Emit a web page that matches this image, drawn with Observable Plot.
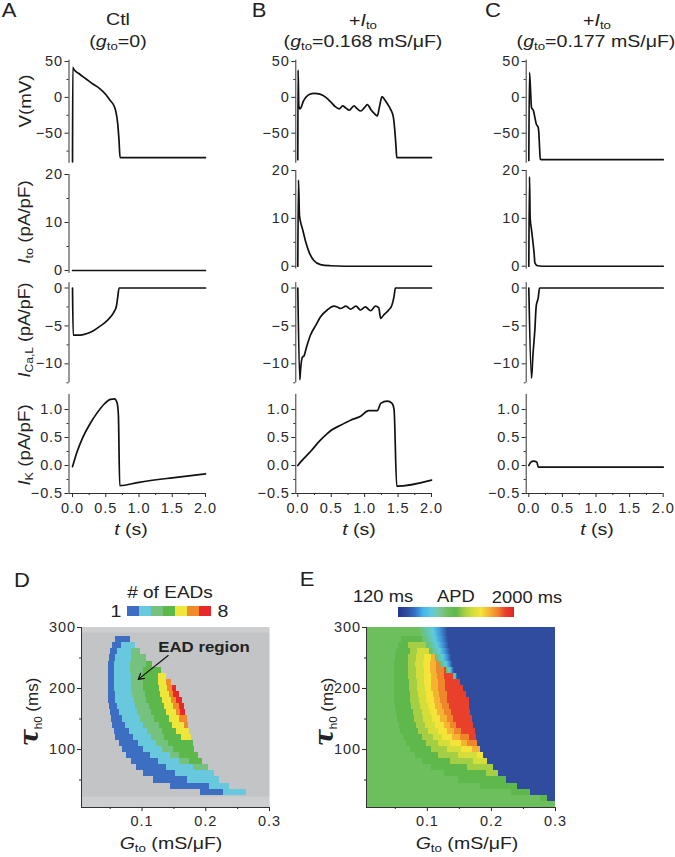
<!DOCTYPE html>
<html><head><meta charset="utf-8">
<script src="https://cdn.jsdelivr.net/npm/d3@7"></script>
<script src="https://cdn.jsdelivr.net/npm/@observablehq/plot@0.6"></script>
<style>
html,body{margin:0;padding:0;background:#fff;}
#root{position:relative;width:675px;height:857px;overflow:hidden;font-family:"Liberation Sans",Arial,sans-serif;color:#222;}
.layer{position:absolute;pointer-events:none;}
.lab{position:absolute;white-space:nowrap;line-height:1;transform-origin:center center;}
.lab sub{font-size:0.68em;vertical-align:-0.3em;line-height:0;}
.tau{font-family:"DejaVu Serif",serif;font-style:italic;font-weight:bold;font-size:1.5em;}
svg text{letter-spacing:0.9px;}
</style></head><body><div id="root"></div>
<script>
// ---------------- DATA ----------------
// time traces: [t (s), value]
const vCtl = [[0,-90],[0.004,42],[0.02,39],[0.1,33],[0.2,26],[0.3,19],[0.4,13],[0.5,4],[0.57,-4.7],[0.62,-11],[0.65,-19],[0.68,-37],[0.70,-61],[0.715,-84],[2.0,-84]];
const vB = [[0,-87],[0.004,38],[0.015,-12],[0.03,-16],[0.05,-14],[0.08,-6],[0.12,0],[0.17,4],[0.25,5.5],[0.33,4.5],[0.42,0],[0.5,-7],[0.56,-13],[0.62,-16],[0.67,-12],[0.72,-15],[0.77,-18],[0.84,-12],[0.89,-16],[0.94,-19],[1.0,-14],[1.04,-10],[1.1,-18],[1.15,-23],[1.19,-26],[1.22,-14],[1.26,1],[1.29,-2],[1.34,-9],[1.39,-17],[1.43,-28],[1.45,-45],[1.47,-70],[1.48,-84],[2.0,-84]];
const vC = [[0,-88],[0.01,35],[0.04,-14],[0.07,-19],[0.09,-28],[0.11,-37],[0.14,-42],[0.15,-51],[0.16,-70],[0.17,-86],[0.2,-87],[2.0,-87]];
const itoA = [[0,0],[2.0,0]];
const itoB = [[0,0],[0.01,18],[0.025,10.5],[0.07,7.8],[0.12,5],[0.17,2.9],[0.24,1.2],[0.34,0.35],[0.49,0.1],[0.7,0],[2.0,0]];
const itoC = [[0,0],[0.01,18.7],[0.02,10],[0.04,7.6],[0.06,5.2],[0.08,2.5],[0.09,0.7],[0.13,0.1],[0.2,0],[2.0,0]];
const caA = [[0,0],[0.01,-6.2],[0.12,-6.2],[0.22,-6.0],[0.32,-5.6],[0.42,-5.0],[0.52,-4.3],[0.62,-3.2],[0.66,-2.4],[0.68,-1.2],[0.70,0],[2.0,0]];
const caB = [[0,0],[0.03,-12.1],[0.04,-10.9],[0.07,-9.1],[0.09,-9.0],[0.13,-7.8],[0.19,-6.2],[0.27,-4.9],[0.34,-3.8],[0.44,-2.9],[0.54,-2.4],[0.59,-2.5],[0.64,-2.7],[0.72,-2.4],[0.79,-2.8],[0.87,-2.4],[0.94,-2.9],[1.01,-2.5],[1.09,-3.0],[1.16,-2.4],[1.21,-2.6],[1.24,-4.0],[1.29,-3.5],[1.36,-2.9],[1.41,-2.2],[1.44,-1.1],[1.46,0],[2.0,0]];
const caC = [[0,0],[0.04,-11.9],[0.06,-9.0],[0.09,-5.5],[0.11,-2.4],[0.14,-1.3],[0.16,0],[2.0,0]];
const ikA = [[0,-0.02],[0.07,0.25],[0.15,0.49],[0.27,0.76],[0.37,0.94],[0.47,1.09],[0.57,1.18],[0.63,1.19],[0.67,1.12],[0.69,0.9],[0.71,-0.36],[1.0,-0.3],[1.5,-0.22],[2.0,-0.15]];
const ikB = [[0,0],[0.07,0.1],[0.19,0.25],[0.32,0.43],[0.44,0.57],[0.49,0.62],[0.64,0.72],[0.79,0.81],[0.94,0.88],[1.06,0.98],[1.19,0.98],[1.24,1.11],[1.34,1.15],[1.41,1.11],[1.44,1.0],[1.48,-0.37],[2.0,-0.26]];
const ikC = [[0,0],[0.03,0.06],[0.07,0.08],[0.12,0.06],[0.14,-0.03],[2.0,-0.03]];

const tMajor = [0, 0.5, 1, 1.5, 2];
const tMinor = [0.25, 0.75, 1.25, 1.75];

// D: number of EADs map; rows of tau_h0 (ms); left edge of the region with >= level EADs, shared right edge (G_to, mS/uF)
const eadLevels = [1, 2, 3, 4, 5, 6, 7];
const eadColors = ["#3c6fc2", "#68c8de", "#74c27e", "#5db84b", "#eee63a", "#f08b2c", "#e8282a"];
const dTau = [280,270,260,250,240,230,220,210,200,190,180,170,160,150,140,130,120,110,100,90,80,70,60,50,40,30];
const dRight = [0.082,0.089,0.098,0.107,0.117,0.131,0.139,0.147,0.154,0.159,0.164,0.166,0.168,0.171,0.173,0.175,0.178,0.180,0.183,0.188,0.195,0.204,0.213,0.222,0.238,0.264];
const dLeft1 = [0.058,0.053,0.050,0.049,0.048,0.048,0.048,0.048,0.048,0.048,0.048,0.049,0.050,0.052,0.054,0.056,0.059,0.064,0.069,0.075,0.083,0.092,0.103,0.118,0.144,0.191];
const dLeft2 = [null,0.068,0.061,0.058,0.057,0.057,0.057,0.057,0.057,0.058,0.059,0.061,0.065,0.069,0.074,0.080,0.086,0.094,0.103,0.114,0.126,0.139,0.152,0.172,0.206,0.228];
const dLeft3 = [null,null,0.084,0.083,0.082,0.082,0.083,0.083,0.084,0.085,0.088,0.090,0.093,0.097,0.102,0.108,0.115,0.123,0.132,0.144,0.159,0.180,null,null,null,null];
const dLeft4 = [null,null,null,null,0.107,0.103,0.102,0.102,0.103,0.105,0.107,0.111,0.115,0.120,0.127,0.132,0.136,0.141,0.149,0.159,0.175,null,null,null,null,null];
const dLeft5 = [null,null,null,null,null,null,0.126,0.126,0.127,0.129,0.132,0.135,0.139,0.143,0.148,0.154,0.162,null,null,null,null,null,null,null,null,null];
const dLeft6 = [null,null,null,null,null,null,null,0.139,0.140,0.143,0.146,0.150,0.154,0.159,0.166,null,null,null,null,null,null,null,null,null,null,null];
const dLeft7 = [null,null,null,null,null,null,null,null,0.148,0.150,0.154,0.158,0.160,null,null,null,null,null,null,null,null,null,null,null,null,null];
const dGrayBands = [[5, 22], [291, 300]];
const eadArrow = [{g1: 0.141, t1: 254, g2: 0.094, t2: 215}];

// E: APD map (ms)
const apdStops  = [120, 200, 330, 460, 560, 680, 780, 950, 1200, 1350, 1500, 1640, 1770, 1930, 2000];
const apdColors = ["#27368c","#2f4c9e","#3470c8","#45b4e8","#5fcbe0","#7cc69a","#6dbf5e","#5fb84c","#a4cf44","#d3de3b","#f4e43a","#f4b432","#f0862c","#e8402a","#e3262a"];
const eBackgroundApd = 780;
const eShellApd = [950, 1200, 1350, 1500, 1640, 1770, 1930];
const eBlueApd = 200;
const eTau = [300,290,280,270,260,250,240,230,220,210,200,190,180,170,160,150,140,130,120,110,100,90,80,70,60,50,40,30,20,10];
const eRight = [0.132,0.132,0.133,0.134,0.136,0.138,0.140,0.142,0.147,0.151,0.156,0.161,0.165,0.166,0.168,0.170,0.172,0.175,0.177,0.179,0.183,0.188,0.194,0.203,0.211,0.224,0.240,0.261,0.287,0.300];
const eLeft1 = [null,null,0.060,0.055,0.052,0.050,0.049,0.048,0.048,0.048,0.048,0.049,0.049,0.051,0.052,0.054,0.056,0.058,0.062,0.067,0.073,0.081,0.092,0.106,0.126,0.149,0.183,0.232,0.277,null];
const eLeft2 = [null,null,null,0.070,0.073,0.071,0.071,0.071,0.071,0.072,0.072,0.073,0.074,0.076,0.078,0.080,0.083,0.086,0.092,0.098,0.107,0.118,0.136,0.162,0.193,null,null,null,null,null];
const eLeft3 = [null,null,null,null,0.085,0.083,0.082,0.083,0.083,0.084,0.085,0.086,0.088,0.089,0.092,0.094,0.097,0.102,0.109,0.118,0.131,0.149,0.172,null,null,null,null,null,null,null];
const eLeft4 = [null,null,null,null,null,0.095,0.094,0.095,0.095,0.096,0.097,0.098,0.099,0.102,0.105,0.108,0.113,0.118,0.124,0.136,0.154,0.178,null,null,null,null,null,null,null,null];
const eLeft5 = [null,null,null,null,null,0.106,0.105,0.105,0.106,0.106,0.107,0.109,0.111,0.113,0.116,0.120,0.126,0.132,0.140,0.154,0.170,null,null,null,null,null,null,null,null,null];
const eLeft6 = [null,null,null,null,null,null,0.114,0.115,0.116,0.117,0.118,0.119,0.121,0.123,0.127,0.131,0.136,0.142,0.152,0.162,null,null,null,null,null,null,null,null,null,null];
const eLeft7 = [null,null,null,null,null,null,null,0.126,0.127,0.128,0.129,0.131,0.132,0.134,0.137,0.141,0.146,0.154,0.165,null,null,null,null,null,null,null,null,null,null,null];
// smooth fade (green -> cyan -> blue) near the top of the APD map: rows with start / end G_to
const eFadeTau = [300, 290, 280, 270, 260, 250, 240, 230, 220];
const eFadeStart = [0.085, 0.088, 0.092, 0.098, 0.104, 0.112, 0.120, 0.130, 0.141];
const eFadeApd = [780, 560, 400, 200]; // APD values seen across the fade, left to right

const gMajor = [0.1, 0.2, 0.3], gMinor = [0.05, 0.15, 0.25];
const tauMajor = [100, 200, 300], tauMinor = [50, 150, 250];

// ---------------- LAYOUT ----------------
const root = document.getElementById("root");
const W = 675, H = 857;
const baseStyle = {fontFamily: '"Liberation Sans", Arial, sans-serif', fontSize: "14.5px", color: "#2a2a2a", background: "transparent", overflow: "visible"};
const TR = "#111";

function addLayer(node, left = 0, top = 0, w = W, h = H) {
  const d = document.createElement("div");
  d.className = "layer";
  Object.assign(d.style, {left: left + "px", top: top + "px", width: w + "px", height: h + "px"});
  d.appendChild(node); root.appendChild(d);
  return node;
}
function label(html, x, y, o = {}) {
  const el = document.createElement("div");
  el.className = "lab";
  el.innerHTML = html;
  el.style.left = x + "px"; el.style.top = y + "px";
  el.style.fontSize = (o.size || 17) + "px";
  if (o.weight) el.style.fontWeight = o.weight;
  el.style.transform = `translate(-50%,-50%)${o.rot ? ` rotate(${o.rot}deg)` : ""} scaleX(${o.sx || 1.15})`;
  root.appendChild(el);
}

const cols = [
  {x0: 68.5, x1: 205, xd: [-0.053, 2.0]},
  {x0: 295.3, x1: 431, xd: [-0.03, 2.0]},
  {x0: 525.7, x1: 662.7, xd: [-0.039, 2.0]}
];
const rows = [
  {yd: [-92, 52], frames: [[59.6,162.8],[59.6,162.8],[59.6,162.8]], major: [-50,0,50], minor: [-75,-25,25], fmt: "d"},
  {yd: [-0.6, 20], frames: [[174,272.9],[170,268.6],[170,268.6]], major: [0,10,20], minor: [5,15], fmt: "d"},
  {yd: [-12.5, 0.7], frames: [[282.2,382.3],[282.2,382.3],[282.2,382.3]], major: [-10,-5,0], minor: [-12.5,-7.5,-2.5], fmt: "d"},
  {yd: [-0.5, 1.27], frames: [[393.9,493],[393.9,493],[393.9,493]], major: [-0.5,0,0.5,1], minor: [-0.25,0.25,0.75], fmt: ".1f"}
];
const series = [[vCtl, vB, vC], [itoA, itoB, itoC], [caA, caB, caC], [ikA, ikB, ikC]];

rows.forEach((row, r) => cols.forEach((col, c) => {
  const [y0, y1] = row.frames[c];
  const last = r === rows.length - 1;
  const marks = [
    Plot.ruleX([col.xd[0]], {stroke: "#333", strokeWidth: 1}),
    Plot.axisY(row.major, {anchor: "left", tickSize: 4, tickPadding: 2, tickFormat: row.fmt, label: null}),
    Plot.axisY(row.minor, {anchor: "left", tickSize: 2, tickFormat: () => "", label: null})
  ];
  if (last) marks.push(
    Plot.ruleY([row.yd[0]], {stroke: "#333", strokeWidth: 1}),
    Plot.axisX(tMajor, {anchor: "bottom", tickSize: 4, tickPadding: 5, tickFormat: ".1f", label: null}),
    Plot.axisX(tMinor, {anchor: "bottom", tickSize: 2, tickFormat: () => "", label: null})
  );
  marks.push(Plot.line(series[r][c], {x: d => d[0], y: d => d[1], stroke: TR, strokeWidth: 1.7, curve: "monotone-x"}));
  addLayer(Plot.plot({
    width: W, height: H,
    marginLeft: col.x0, marginRight: W - col.x1, marginTop: y0, marginBottom: H - y1,
    x: last ? {domain: col.xd} : {domain: col.xd, axis: null},
    y: {domain: row.yd},
    style: baseStyle, marks
  }));
}));

// ---- heatmap helpers ----
function shellRects(taus, right, lefts, values) {
  const out = [];
  lefts.forEach((arr, k) => arr.forEach((g, i) => {
    if (g != null && right[i] > g) out.push({x1: g, x2: right[i], y1: Math.max(taus[i] - 5, 5), y2: Math.min(taus[i] + 5, 300), v: values[k]});
  }));
  return out;
}
const gDom = [0.005, 0.3], tauDom = [5, 300];
function mapAxes() {
  return [
    Plot.ruleX([gDom[0]], {stroke: "#333"}),
    Plot.ruleY([tauDom[0]], {stroke: "#333"}),
    Plot.axisY(tauMajor, {anchor: "left", tickSize: 4, tickPadding: 1.5, label: null}),
    Plot.axisY(tauMinor, {anchor: "left", tickSize: 2, tickFormat: () => "", label: null}),
    Plot.axisX(gMajor, {anchor: "bottom", tickSize: 4, tickPadding: 4, tickFormat: ".1f", label: null}),
    Plot.axisX(gMinor, {anchor: "bottom", tickSize: 2, tickFormat: () => "", label: null})
  ];
}

// D
const dRects = shellRects(dTau, dRight, [dLeft1, dLeft2, dLeft3, dLeft4, dLeft5, dLeft6, dLeft7], eadLevels);
addLayer(Plot.plot({
  width: W, height: H, marginLeft: 81, marginRight: W - 269, marginTop: 627, marginBottom: H - 807,
  x: {domain: gDom}, y: {domain: tauDom},
  color: {type: "ordinal", domain: eadLevels, range: eadColors},
  style: baseStyle,
  marks: [
    Plot.frame({fill: "#c3c4c6", stroke: null}),
    Plot.rect(dGrayBands, {x1: gDom[0], x2: gDom[1], y1: d => d[0], y2: d => d[1], fill: "#cdcecf"}),
    Plot.rect(dRects, {x1: "x1", x2: "x2", y1: "y1", y2: "y2", fill: "v", shapeRendering: "crispEdges"}),
    ...mapAxes(),
    Plot.arrow(eadArrow, {x1: "g1", y1: "t1", x2: "g2", y2: "t2", stroke: "#111", strokeWidth: 1.2, headLength: 8})
  ]
}));

// E
const apdScale = {type: "linear", domain: apdStops, range: apdColors};
const apdColor = d3.scaleLinear(apdStops, apdColors);
const eRects = [{x1: gDom[0], x2: gDom[1], y1: tauDom[0], y2: tauDom[1], v: eBackgroundApd}]
  .concat(shellRects(eTau, eRight, [eLeft1, eLeft2, eLeft3, eLeft4, eLeft5, eLeft6, eLeft7], eShellApd));
const eBlue = [];
eTau.forEach((tau, i) => {
  if (eRight[i] < gDom[1]) eBlue.push({x1: eRight[i], x2: gDom[1], y1: Math.max(tau - 5, 5), y2: Math.min(tau + 5, 300), v: eBlueApd});
});
const eFade = eFadeTau.map((tau, i) => ({x1: eFadeStart[i], x2: eRight[eTau.indexOf(tau)], y1: Math.max(tau - 5, 5), y2: Math.min(tau + 5, 300)}));
const eSvg = addLayer(Plot.plot({
  width: W, height: H, marginLeft: 366, marginRight: W - 555, marginTop: 627, marginBottom: H - 807,
  x: {domain: gDom}, y: {domain: tauDom},
  color: apdScale,
  style: baseStyle,
  marks: [
    Plot.rect(eRects, {x1: "x1", x2: "x2", y1: "y1", y2: "y2", fill: "v", shapeRendering: "crispEdges"}),
    Plot.rect(eFade, {x1: "x1", x2: "x2", y1: "y1", y2: "y2", fill: "url(#apdFade)", shapeRendering: "crispEdges"}),
    Plot.rect(eBlue, {x1: "x1", x2: "x2", y1: "y1", y2: "y2", fill: "v", shapeRendering: "crispEdges"}),
    ...mapAxes()
  ]
}));
// gradient definition for the fade, colours taken from the APD colour scale
{
  const ns = "http://www.w3.org/2000/svg";
  const defs = document.createElementNS(ns, "defs");
  const lg = document.createElementNS(ns, "linearGradient");
  lg.setAttribute("id", "apdFade");
  lg.setAttribute("x1", "0"); lg.setAttribute("x2", "1"); lg.setAttribute("y1", "0"); lg.setAttribute("y2", "0");
  eFadeApd.forEach((v, j) => {
    const s = document.createElementNS(ns, "stop");
    s.setAttribute("offset", [0, 0.5, 0.75, 1][j]);
    s.setAttribute("stop-color", apdColor(v));
    lg.appendChild(s);
  });
  defs.appendChild(lg);
  eSvg.insertBefore(defs, eSvg.firstChild);
}

// colorbars
addLayer(Plot.plot({
  width: 89, height: 10, margin: 0,
  x: {type: "band", domain: eadLevels, padding: 0, axis: null},
  color: {type: "ordinal", domain: eadLevels, range: eadColors},
  style: baseStyle,
  marks: [Plot.cell(eadLevels, {x: d => d, fill: d => d})]
}), 124, 606, 89, 10);
addLayer(Plot.legend({
  color: apdScale, width: 116, height: 10,
  marginTop: 0, marginBottom: 0, marginLeft: 0, marginRight: 0,
  ticks: [], tickSize: 0, tickFormat: () => "", label: null,
  style: {background: "transparent", overflow: "visible"}
}), 398, 607, 116, 10);

// ---------------- TEXT ----------------
label("A", 9, 10, {size: 20, sx: 1.1});
label("B", 259, 10, {size: 20, sx: 1.1});
label("C", 492.5, 10, {size: 20, sx: 1.1});
label("D", 21.5, 580, {size: 20, sx: 1.1});
label("E", 306.5, 578.5, {size: 20, sx: 1.1});

label("Ctl", 118, 19);
label("(<i>g</i><sub>to</sub>=0)", 118, 41);
label("+<i>I</i><sub>to</sub>", 363, 20);
label("(<i>g</i><sub>to</sub>=0.168 mS/μF)", 362.5, 41);
label("+<i>I</i><sub>to</sub>", 597, 20);
label("(<i>g</i><sub>to</sub>=0.177 mS/μF)", 596, 41);

label("V(mV)", 24.5, 101, {rot: -90, sx: 1.1});
label("<i>I</i><sub>to</sub> (pA/pF)", 24, 222, {rot: -90, sx: 1.1});
label("<i>I</i><sub>Ca,L</sub> (pA/pF)", 24, 330, {rot: -90, sx: 1.05});
label("<i>I</i><sub>K</sub> (pA/pF)", 24, 445, {rot: -90, sx: 1.1});

label("<i>t</i> (s)", 131, 529);
label("<i>t</i> (s)", 359, 529);
label("<i>t</i> (s)", 596.5, 529);

label("# of EADs", 170, 592, {sx: 1.12});
label("1", 115.5, 611);
label("8", 223, 611);
label("120 ms", 383, 596, {sx: 1.08});
label("APD", 456, 596, {sx: 1.08});
label("2000 ms", 527, 597, {sx: 1.08});

label("EAD region", 204, 647, {size: 14, weight: "bold", sx: 1.2});

label('<span class="tau">τ</span><sub>h0</sub> (ms)', 30, 712, {rot: -90, sx: 1.0});
label('<span class="tau">τ</span><sub>h0</sub> (ms)', 325, 712, {rot: -90, sx: 1.0});
label("<i>G</i><sub>to</sub> (mS/μF)", 171, 843, {sx: 1.15});
label("<i>G</i><sub>to</sub> (mS/μF)", 467, 843, {sx: 1.15});
</script></body></html>
